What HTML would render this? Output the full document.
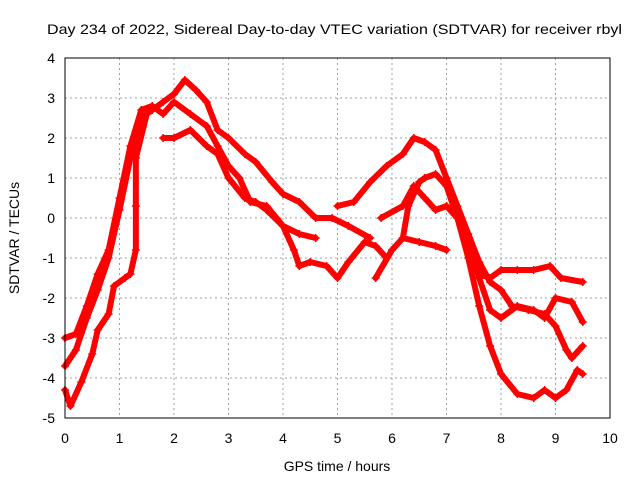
<!DOCTYPE html>
<html><head><meta charset="utf-8"><style>
body{margin:0;background:#fff}
svg{display:block;font-family:"Liberation Sans",sans-serif}
</style></head><body>
<svg id="chart" width="640" height="480">
<text x="47" y="34" textLength="575" lengthAdjust="spacingAndGlyphs" font-size="14">Day 234 of 2022, Sidereal Day-to-day VTEC variation (SDTVAR) for receiver rbyl</text>
<text transform="translate(19,238) rotate(-90)" text-anchor="middle" font-size="14">SDTVAR / TECUs</text>
<text x="337" y="471" text-anchor="middle" font-size="14">GPS time / hours</text>
<g id="grid"></g><g id="ticks"></g><g id="series"></g>
<rect x="65" y="58" width="545" height="360" fill="none" stroke="#000"/>
</svg>
<script>
const xTicks=[0,1,2,3,4,5,6,7,8,9,10];
const yTicks=[-5,-4,-3,-2,-1,0,1,2,3,4];
const s1=[[0,-3.7],[0.2,-3.3],[0.4,-2.5],[0.6,-1.8],[0.8,-1.0],[1.0,0.2],[1.2,1.5],[1.4,2.5],[1.6,2.7],[1.8,2.9],[2.0,3.1],[2.2,3.45],[2.4,3.2],[2.6,2.9],[2.8,2.2],[3.0,2.0],[3.3,1.6],[3.5,1.4],[3.8,0.9],[4.0,0.6],[4.3,0.4],[4.6,0.0],[4.9,0.0],[5.2,-0.2],[5.6,-0.5]];
const s2=[[0,-3.0],[0.2,-2.9],[0.4,-2.2],[0.6,-1.4],[0.8,-0.8],[1.0,0.5],[1.2,1.8],[1.4,2.7],[1.6,2.8],[1.8,2.6],[2.0,2.9],[2.3,2.6],[2.6,2.3],[2.8,1.8],[3.0,1.3],[3.2,1.0],[3.4,0.4],[3.7,0.3],[4.0,-0.2],[4.2,-0.8],[4.3,-1.2],[4.5,-1.1],[4.8,-1.2],[5.0,-1.5],[5.2,-1.1],[5.5,-0.6],[5.7,-0.7],[5.9,-1.0]];
const s3=[[0,-4.3],[0.1,-4.7],[0.3,-4.1],[0.5,-3.4],[0.6,-2.8],[0.8,-2.4],[0.9,-1.7],[1.1,-1.5],[1.2,-1.4],[1.3,-0.8],[1.3,0.3],[1.3,1.5],[1.5,2.6]];
const s4=[[1.8,2.0],[2.0,2.0],[2.3,2.2],[2.6,1.8],[2.8,1.6],[3.0,1.0],[3.3,0.5],[3.5,0.4],[3.7,0.2],[4.0,-0.2],[4.3,-0.4],[4.6,-0.5]];
const s5=[[5.0,0.3],[5.3,0.4],[5.6,0.9],[5.9,1.3],[6.2,1.6],[6.4,2.0],[6.6,1.9],[6.8,1.7],[7.0,1.0],[7.2,0.3],[7.4,-0.4],[7.6,-1.1],[7.8,-1.6],[8.0,-1.8],[8.2,-2.2],[8.5,-2.3],[8.8,-2.4],[9.0,-2.7],[9.2,-3.3],[9.3,-3.5],[9.5,-3.2]];
const s6=[[5.7,-1.5],[6.0,-0.8],[6.2,-0.5],[6.5,-0.6],[6.8,-0.7],[7.0,-0.8]];
const s7=[[6.2,-0.5],[6.3,0.3],[6.5,0.9],[6.6,1.0],[6.8,1.1],[7.0,0.8],[7.2,0.0],[7.4,-1.0],[7.6,-2.2],[7.8,-3.2],[8.0,-3.9],[8.3,-4.4],[8.6,-4.5],[8.8,-4.3],[9.0,-4.5],[9.2,-4.3],[9.4,-3.8],[9.5,-3.9]];
const s8=[[5.8,0.0],[6.2,0.3],[6.4,0.8],[6.6,0.5],[6.8,0.2],[7.0,0.3],[7.2,0.0],[7.4,-0.8],[7.6,-1.4],[7.8,-1.5],[8.0,-1.3],[8.3,-1.3],[8.6,-1.3],[8.9,-1.2],[9.1,-1.5],[9.5,-1.6]];
const s9=[[7.4,-0.5],[7.6,-1.5],[7.8,-2.3],[8.0,-2.5],[8.3,-2.2],[8.6,-2.3],[8.8,-2.5],[9.0,-2.0],[9.3,-2.1],[9.5,-2.6]];
const allSeries=[s1,s2,s3,s4,s5,s6,s7,s8,s9];
const NS="http://www.w3.org/2000/svg";
const X=t=>65+54.5*t, Y=v=>218-40*v;
const grid=document.getElementById('grid'),ticks=document.getElementById('ticks'),ser=document.getElementById('series');
function mk(tag,at,parent){const e=document.createElementNS(NS,tag);for(const k in at)e.setAttribute(k,at[k]);parent.appendChild(e);return e;}
xTicks.forEach(t=>{
 if(t>0&&t<10){const g=mk('line',{x1:X(t),x2:X(t),y1:58,y2:418,stroke:'#a0a0a0','stroke-dasharray':'2,3'},grid);
 
 }
 const l=mk('text',{x:X(t),y:443,'text-anchor':'middle','font-size':14},ticks);l.textContent=t;
 
 
});
yTicks.forEach(v=>{
 if(v>-5&&v<4){const g=mk('line',{x1:65,x2:610,y1:Y(v),y2:Y(v),stroke:'#a0a0a0','stroke-dasharray':'2,3'},grid);
 
 }
 const l=mk('text',{x:55,y:Y(v)+5,'text-anchor':'end','font-size':14},ticks);l.textContent=v;
 
 
});
allSeries.forEach((s,i)=>{
 const pl=mk('polyline',{points:s.map(p=>X(p[0])+','+Y(p[1])).join(' '),fill:'none',stroke:'#f00','stroke-width':6,'stroke-linejoin':'round','stroke-linecap':'round'},ser);
 
 
 s.forEach(p=>{const m=mk('path',{d:`M${X(p[0])-4},${Y(p[1])}h8M${X(p[0])},${Y(p[1])-4}v8`,stroke:'#f00','stroke-width':1.5},ser);
 
 });
});
</script>
</body></html>
